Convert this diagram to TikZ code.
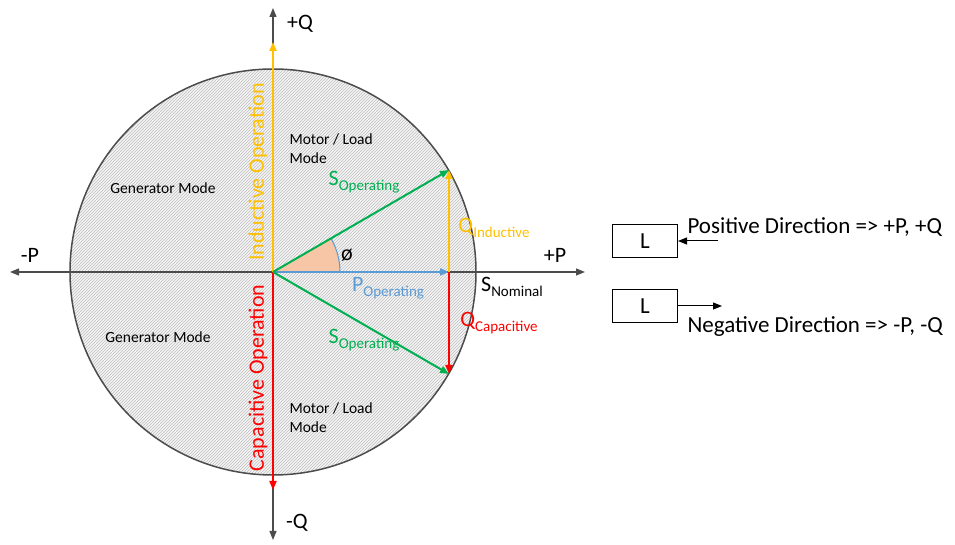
\documentclass[tikz,border=0pt]{standalone}
\usepackage{fontspec}
\setmainfont{Carlito}
\usetikzlibrary{arrows.meta,patterns}
\definecolor{qind}{RGB}{255,192,0}
\definecolor{qcap}{RGB}{255,0,0}
\definecolor{sop}{RGB}{0,176,80}
\definecolor{pop}{RGB}{91,155,213}
\definecolor{wedge}{RGB}{246,198,166}
\newcommand{\qty}[2]{{\fontsize{22}{24}\selectfont #1}\raisebox{-5pt}{\fontsize{15}{16}\selectfont #2}}
\tikzset{
  axis/.style={draw=black!70,line width=1.2pt},
  vec/.style={line width=2pt},
  big/.style={font=\fontsize{22}{24}\selectfont},
  legend/.style={font=\fontsize{23}{25}\selectfont},
  small/.style={font=\fontsize{15.5}{19}\selectfont},
  lbox/.style={draw,line width=1pt,shape=rectangle,minimum width=65pt,minimum height=33pt,legend},
}
\begin{document}
\begin{tikzpicture}[x=1pt,y=1pt,>={Triangle[length=9pt,width=7pt]}]
  \useasboundingbox (0,0) rectangle (955,545);
  %\draw[step=50,gray,very thin] (0,0) grid (955,545);
  \coordinate (O) at (273,273);
  % circle
  \fill[black!4] (O) circle (203);
  \fill[pattern=north east lines,pattern color=black!25] (O) circle (203);
  \draw[black!70,line width=1.5pt] (O) circle (203);
  % axes
  \coordinate (Pneg) at (10,273);
  \coordinate (Ppos) at (585,273);
  \coordinate (Qpos) at (273,537);
  \coordinate (Qneg) at (273,5);
  \draw[axis,->] (O) -- (Pneg);
  \draw[axis,->] (O) -- (Ppos);
  \draw[axis,->] (O) -- (Qpos);
  \draw[axis,->] (O) -- (Qneg);
  \node[big] (Pm) at (30,290) {-P};
  \node[big] (Pp) at (555,290) {+P};
  \node[big] (Qp) at (300,521) {+Q};
  \node[big] (Qm) at (297,22) {-Q};
  % operation axes
  \coordinate (Ind) at (273,503);
  \coordinate (Cap) at (273,55);
  \draw[->,vec,qind] (O) -- (Ind);
  \draw[->,vec,qcap] (O) -- (Cap);
  \node[big,qind,rotate=90] (IndOp) at (258,373) {Inductive Operation};
  \node[big,qcap,rotate=90] (CapOp) at (258,167) {Capacitive Operation};
  % modes
  \node[small] (GenUp) at (163,357) {Generator Mode};
  \node[small] (GenDn) at (158,208) {Generator Mode};
  \node[small,anchor=west,align=left] (MotUp) at (286,396) {Motor / Load\\Mode};
  \node[small,anchor=west,align=left] (MotDn) at (286,127) {Motor / Load\\Mode};
  % phasors
  \coordinate (Sup) at (449,375);
  \coordinate (Sdn) at (449,171);
  \coordinate (Pend) at (449,273);
  \fill[wedge] (O) -- ++(0:67) arc (0:30:67) -- cycle;
  \draw[pop,line width=1pt] (O) ++(0:67) arc (0:30:67);
  \draw[->,vec,pop] (O) -- (Pend);
  \draw[->,vec,qind] (Pend) -- (Sup);
  \draw[->,vec,qcap] (Pend) -- (Sdn);
  \draw[->,vec,sop] (O) -- (Sup);
  \draw[->,vec,sop] (O) -- (Sdn);
  \node[big] (phi) at (347,290) {ø};
  \node[sop] (SopUp) at (364,363) {\qty{S}{Operating}};
  \node[sop] (SopDn) at (364,205) {\qty{S}{Operating}};
  \node[pop] (Pop) at (388,257) {\qty{P}{Operating}};
  \node[qind] (Qind) at (494,317) {\qty{Q}{Inductive}};
  \node[qcap] (Qcap) at (499,222) {\qty{Q}{Capacitive}};
  \node (Snom) at (512,258) {\qty{S}{Nominal}};
  % direction legend
  \node[lbox] (L1) at (645,304) {L};
  \node[lbox] (L2) at (645,239) {L};
  \coordinate (A1) at (718,304);
  \coordinate (A2) at (722,239);
  \draw[->,line width=1pt] (A1) -- (L1.east);
  \draw[->,line width=1pt] (L2.east) -- (A2);
  \node[legend,anchor=west] (Pos) at (684,318) {Positive Direction => +P, +Q};
  \node[legend,anchor=west] (Neg) at (684,218) {Negative Direction => -P, -Q};
\end{tikzpicture}
\end{document}
